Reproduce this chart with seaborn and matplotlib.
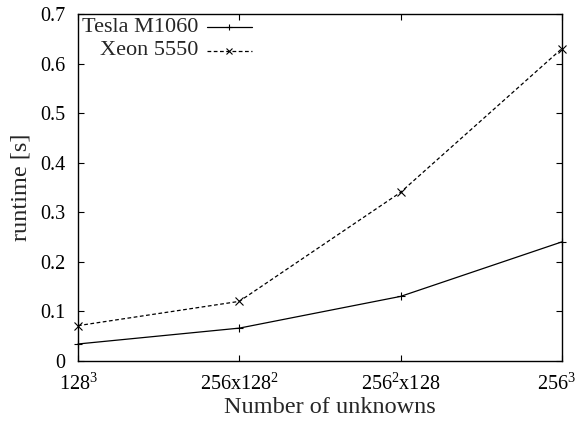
import matplotlib
matplotlib.use("Agg")
import matplotlib.pyplot as plt
import matplotlib.transforms as mtransforms
import seaborn as sns
import pandas as pd
from matplotlib.lines import Line2D

categories = ["$128^3$", "$256$x$128^2$", "$256^2$x$128$", "$256^3$"]
tesla = [0.034, 0.066, 0.13, 0.24]
xeon = [0.071, 0.12, 0.34, 0.63]
series_names = ["Tesla M1060", "Xeon 5550"]
yticks = [0, 0.1, 0.2, 0.3, 0.4, 0.5, 0.6, 0.7]

sns.set_style("ticks")
plt.rcParams["font.family"] = ["Liberation Serif", "DejaVu Serif"]
plt.rcParams["mathtext.fontset"] = "custom"
plt.rcParams["mathtext.rm"] = "Liberation Serif"
plt.rcParams["mathtext.it"] = "Liberation Serif"
plt.rcParams["mathtext.default"] = "rm"

TICK_FS = 14.5
LABEL_FS = 17.5
LEG_FS = 16

pos = list(range(len(categories)))
df = pd.DataFrame({
    "pos": pos * 2,
    "runtime": tesla + xeon,
    "series": [series_names[0]] * 4 + [series_names[1]] * 4,
})

fig = plt.figure(figsize=(5.78, 4.24), dpi=100)
ax = fig.add_axes([0.135, 0.149, 0.837, 0.818])

styles = {
    series_names[0]: dict(marker="+", linestyle="-"),
    series_names[1]: dict(marker="x", linestyle=(0, (3, 2))),
}
for name in series_names:
    sub = df[df["series"] == name]
    sns.lineplot(data=sub, x="pos", y="runtime", ax=ax, color="black",
                 linewidth=0.9, marker=styles[name]["marker"],
                 markersize=5.5, markeredgewidth=0.8, markeredgecolor="black",
                 markerfacecolor="black",
                 linestyle=styles[name]["linestyle"], legend=False, clip_on=False)

ax.set_xlim(0, 3)
ax.set_ylim(0, 0.7)
ax.set_xticks(pos)
ax.set_xticklabels(categories)
ax.set_yticks(yticks)
ax.set_yticklabels([f"{v:g}" for v in yticks])
ax.tick_params(direction="in", length=4, width=0.8, top=True, right=True,
               labelsize=TICK_FS, colors="black")
ax.tick_params(axis="x", pad=9)
ax.tick_params(axis="y", pad=9)
for s in ax.spines.values():
    s.set_linewidth(1.0)
    s.set_color("black")
ax.set_xlabel("Number of unknowns", fontsize=LABEL_FS, labelpad=2)
ax.xaxis.set_label_coords(0.52, -0.105)
ax.set_ylabel("runtime [s]", fontsize=LABEL_FS, labelpad=6)

# keep the last tick label inside the figure, as in the reference
last = ax.get_xticklabels()[-1]
last.set_transform(last.get_transform() +
                   mtransforms.ScaledTranslation(-5 / 100, 0, fig.dpi_scale_trans))

# gnuplot-style legend: right-aligned text, sample on the right
for i, name in enumerate(series_names):
    yy = 0.962 - 0.068 * i
    ax.text(0.248, yy, name, transform=ax.transAxes, ha="right", va="center",
            fontsize=LEG_FS)
    ln = Line2D([0.266, 0.36], [yy, yy], transform=ax.transAxes, color="black",
                linewidth=0.9, linestyle=styles[name]["linestyle"])
    ax.add_line(ln)
    mk = Line2D([0.313], [yy], transform=ax.transAxes, color="black",
                marker=styles[name]["marker"], markersize=5, markeredgewidth=0.8,
                linestyle="none")
    ax.add_line(mk)

fig.savefig("out.png", dpi=100)
